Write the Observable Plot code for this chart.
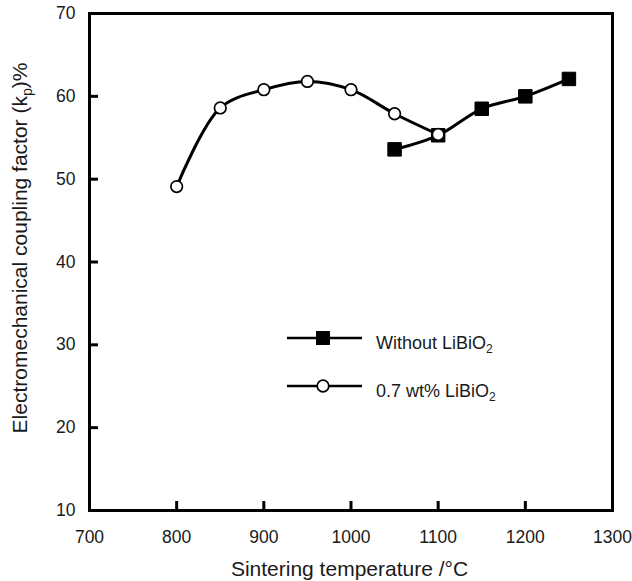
<!DOCTYPE html>
<html>
<head>
<meta charset="utf-8">
<script src="https://cdn.jsdelivr.net/npm/d3@7"></script>
<script src="https://cdn.jsdelivr.net/npm/@observablehq/plot@0.6"></script>
<style>
  html, body { margin: 0; padding: 0; background: #fff; }
  #wrap { position: relative; width: 632px; height: 581px; font-family: "Liberation Sans", Arial, Helvetica, sans-serif; }
</style>
</head>
<body>
<div id="wrap"></div>
<script>
// Data
const tempsWith = [800, 850, 900, 950, 1000, 1050, 1100];
const kpWith = [49.1, 58.6, 60.8, 61.8, 60.8, 57.9, 55.4];
const tempsWithout = [1050, 1100, 1150, 1200, 1250];
const kpWithout = [53.6, 55.3, 58.5, 60.0, 62.1];
const xTicks = [700, 800, 900, 1000, 1100, 1200, 1300];
const yTicks = [10, 20, 30, 40, 50, 60, 70];
const seriesNames = ["Without LiBiO", "0.7 wt% LiBiO"];

const withData = tempsWith.map((t, i) => ({t, kp: kpWith[i]}));
const withoutData = tempsWithout.map((t, i) => ({t, kp: kpWithout[i]}));
const innerTicksX = xTicks.slice(1, -1);
const innerTicksY = yTicks.slice(1, -1);

const W = 632, H = 581;
const mL = 89, mR = 20, mT = 13, mB = 71;
const plotW = W - mL - mR, plotH = H - mT - mB;
const tickLen = 9;
const FONT = '"Liberation Sans", Arial, Helvetica, sans-serif';
const xMin = xTicks[0], xMax = xTicks[xTicks.length - 1];
const yMin = yTicks[0], yMax = yTicks[yTicks.length - 1];
// tick length converted to data units (9 px)
const tickDX = tickLen * (xMax - xMin) / plotW;
const tickDY = tickLen * (yMax - yMin) / plotH;

const chart = Plot.plot({
  width: W,
  height: H,
  marginLeft: mL,
  marginRight: mR,
  marginTop: mT,
  marginBottom: mB,
  style: {fontFamily: FONT, fontSize: "17.5px", color: "#1a1a1a"},
  x: {type: "linear", domain: [xMin, xMax], label: null},
  y: {type: "linear", domain: [yMin, yMax], label: null},
  marks: [
    Plot.axisX({ticks: xTicks, tickFormat: d => String(d), tickSize: 0, tickPadding: 20, fontSize: 17.5, fill: "#1a1a1a", label: null}),
    Plot.axisY({ticks: yTicks, tickFormat: d => String(d), tickSize: 0, tickPadding: 14, fontSize: 17.5, fill: "#1a1a1a", label: null}),
    // inward ticks
    Plot.ruleX(innerTicksX, {x: d => d, y1: yMin, y2: yMin + tickDY, stroke: "black", strokeWidth: 3}),
    Plot.ruleY(innerTicksY, {y: d => d, x1: xMin, x2: xMin + tickDX, stroke: "black", strokeWidth: 3}),
    Plot.line(withoutData, {x: "t", y: "kp", curve: "catmull-rom", strokeWidth: 3, stroke: "black"}),
    Plot.line(withData, {x: "t", y: "kp", curve: "catmull-rom", strokeWidth: 3, stroke: "black"}),
    Plot.dot(withoutData, {x: "t", y: "kp", symbol: "square", r: 7.6, fill: "black", stroke: "black", strokeWidth: 1}),
    Plot.dot(withData, {x: "t", y: "kp", symbol: "circle", r: 5.8, fill: "white", stroke: "black", strokeWidth: 1.7}),
    Plot.frame({strokeWidth: 3, stroke: "black"})
  ]
});
document.getElementById("wrap").appendChild(chart);

const svg = d3.select(chart);

// axis titles (with subscript)
svg.append("text")
  .attr("x", mL + plotW / 2 - 1).attr("y", 576)
  .attr("text-anchor", "middle")
  .attr("font-family", FONT)
  .attr("font-size", 21).attr("fill", "#1a1a1a")
  .text("Sintering temperature /°C");
const yl = svg.append("text")
  .attr("transform", `translate(27,${248}) rotate(-90)`)
  .attr("text-anchor", "middle")
  .attr("font-family", FONT)
  .attr("font-size", 21).attr("fill", "#1a1a1a");
yl.append("tspan").text("Electromechanical coupling factor (k");
yl.append("tspan").attr("dy", 5).attr("font-size", 14).text("p");
yl.append("tspan").attr("dy", -5).text(")%");

// legend
const lg = svg.append("g").attr("font-size", 18).attr("font-family", FONT).attr("fill", "#1a1a1a").attr("text-anchor", "start");
const rows = [{y: 338, sym: "square"}, {y: 386, sym: "circle"}];
rows.forEach((r, i) => {
  lg.append("line").attr("x1", 287).attr("x2", 362).attr("y1", r.y).attr("y2", r.y)
    .attr("stroke", "black").attr("stroke-width", 2.5);
  if (r.sym === "square") {
    lg.append("rect").attr("x", 316).attr("y", r.y - 7).attr("width", 14).attr("height", 14).attr("fill", "black");
  } else {
    lg.append("circle").attr("cx", 323).attr("cy", r.y).attr("r", 5.8).attr("fill", "white")
      .attr("stroke", "black").attr("stroke-width", 1.7);
  }
  const t = lg.append("text").attr("x", 376).attr("y", r.y + 11);
  t.append("tspan").text(seriesNames[i]);
  t.append("tspan").attr("dy", 4).attr("font-size", 12).text("2");
});
</script>
</body>
</html>
